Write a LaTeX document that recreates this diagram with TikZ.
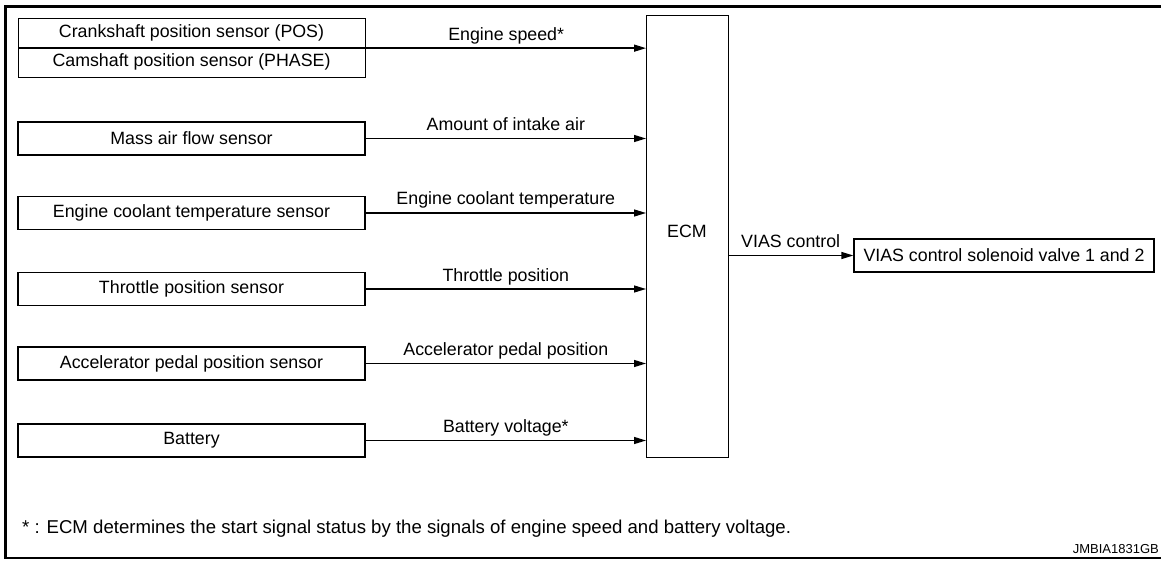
\documentclass[tikz,border=0pt]{standalone}
\usepackage{fontspec}
\setmainfont{Liberation Sans}
\usetikzlibrary{arrows.meta}
\begin{document}
\begin{tikzpicture}[x=1pt,y=-1pt,
  txt/.style={font=\fontsize{17.8}{20}\selectfont, inner sep=0pt},
  box/.style={draw, line width=1.3pt, minimum height=33pt, minimum width=347pt, inner sep=0pt, font=\fontsize{17.8}{20}\selectfont},
  sig/.style={line width=1.3pt, -{Triangle[length=12pt,width=7pt]}},
  lbl/.style={font=\fontsize{17.8}{20}\selectfont, inner sep=0pt, anchor=base}
]
\useasboundingbox (0,0) rectangle (1161,561);
% frame
\draw[line width=3.2pt] (1161,6.5) -- (5.5,6.5) -- (5.5,559);
\draw[line width=2pt] (5.5,558) -- (1161,558);

% ECM
\node[draw, line width=1.3pt, minimum width=82pt, minimum height=442pt, inner sep=0pt, anchor=north west] (ecm) at (646,15) {};
\node[txt] (ecml) at (687,231) {ECM};

% sensor boxes
\node[draw, line width=1.3pt, minimum width=347pt, minimum height=59pt, inner sep=0pt, anchor=north west] (crank) at (18,18) {};
\draw[line width=1.3pt] (crank.west) -- (crank.east);
\node[txt] (crankt) at (191.5,33) {Crankshaft position sensor (POS)};
\node[txt] (camt) at (191.5,62) {Camshaft position sensor (PHASE)};

\node[box] (maf) at (191.5,138.5) {Mass air flow sensor};
\node[box] (ect) at (191.5,213) {Engine coolant temperature sensor};
\node[box] (tps) at (191.5,289) {Throttle position sensor};
\node[box] (app) at (191.5,363.5) {Accelerator pedal position sensor};
\node[box] (bat) at (191.5,440.5) {Battery};

% arrows
\draw[sig] (crank.east) -- (crank.east -| ecm.west) node[lbl, midway, yshift=8pt] (l1) {Engine speed*};
\draw[sig] (maf.east) -- (maf.east -| ecm.west) node[lbl, midway, yshift=8pt] (l2) {Amount of intake air};
\draw[sig] (ect.east) -- (ect.east -| ecm.west) node[lbl, midway, yshift=8pt] (l3) {Engine coolant temperature};
\draw[sig] (tps.east) -- (tps.east -| ecm.west) node[lbl, midway, yshift=8pt] (l4) {Throttle position};
\draw[sig] (app.east) -- (app.east -| ecm.west) node[lbl, midway, yshift=8pt] (l5) {Accelerator pedal position};
\draw[sig] (bat.east) -- (bat.east -| ecm.west) node[lbl, midway, yshift=8pt] (l6) {Battery voltage*};

% output
\node[draw, line width=1.3pt, minimum width=300pt, minimum height=33pt, inner sep=0pt, font=\fontsize{17.8}{20}\selectfont] (vias) at (1004,255.5) {VIAS control solenoid valve 1 and 2};
\coordinate (eo) at (728,255.5);
\draw[sig] (eo) -- (vias.west) node[lbl, midway, yshift=8pt] (l7) {VIAS control};

% footnote
\node[font=\fontsize{18.6}{21}\selectfont, inner sep=0pt, anchor=base west] (fn) at (22,533) {* : ECM determines the start signal status by the signals of engine speed and battery voltage.};
\node[font=\fontsize{13}{15}\selectfont, inner sep=0pt, anchor=base east] (code) at (1159,553) {JMBIA1831GB};
\end{tikzpicture}
\end{document}
